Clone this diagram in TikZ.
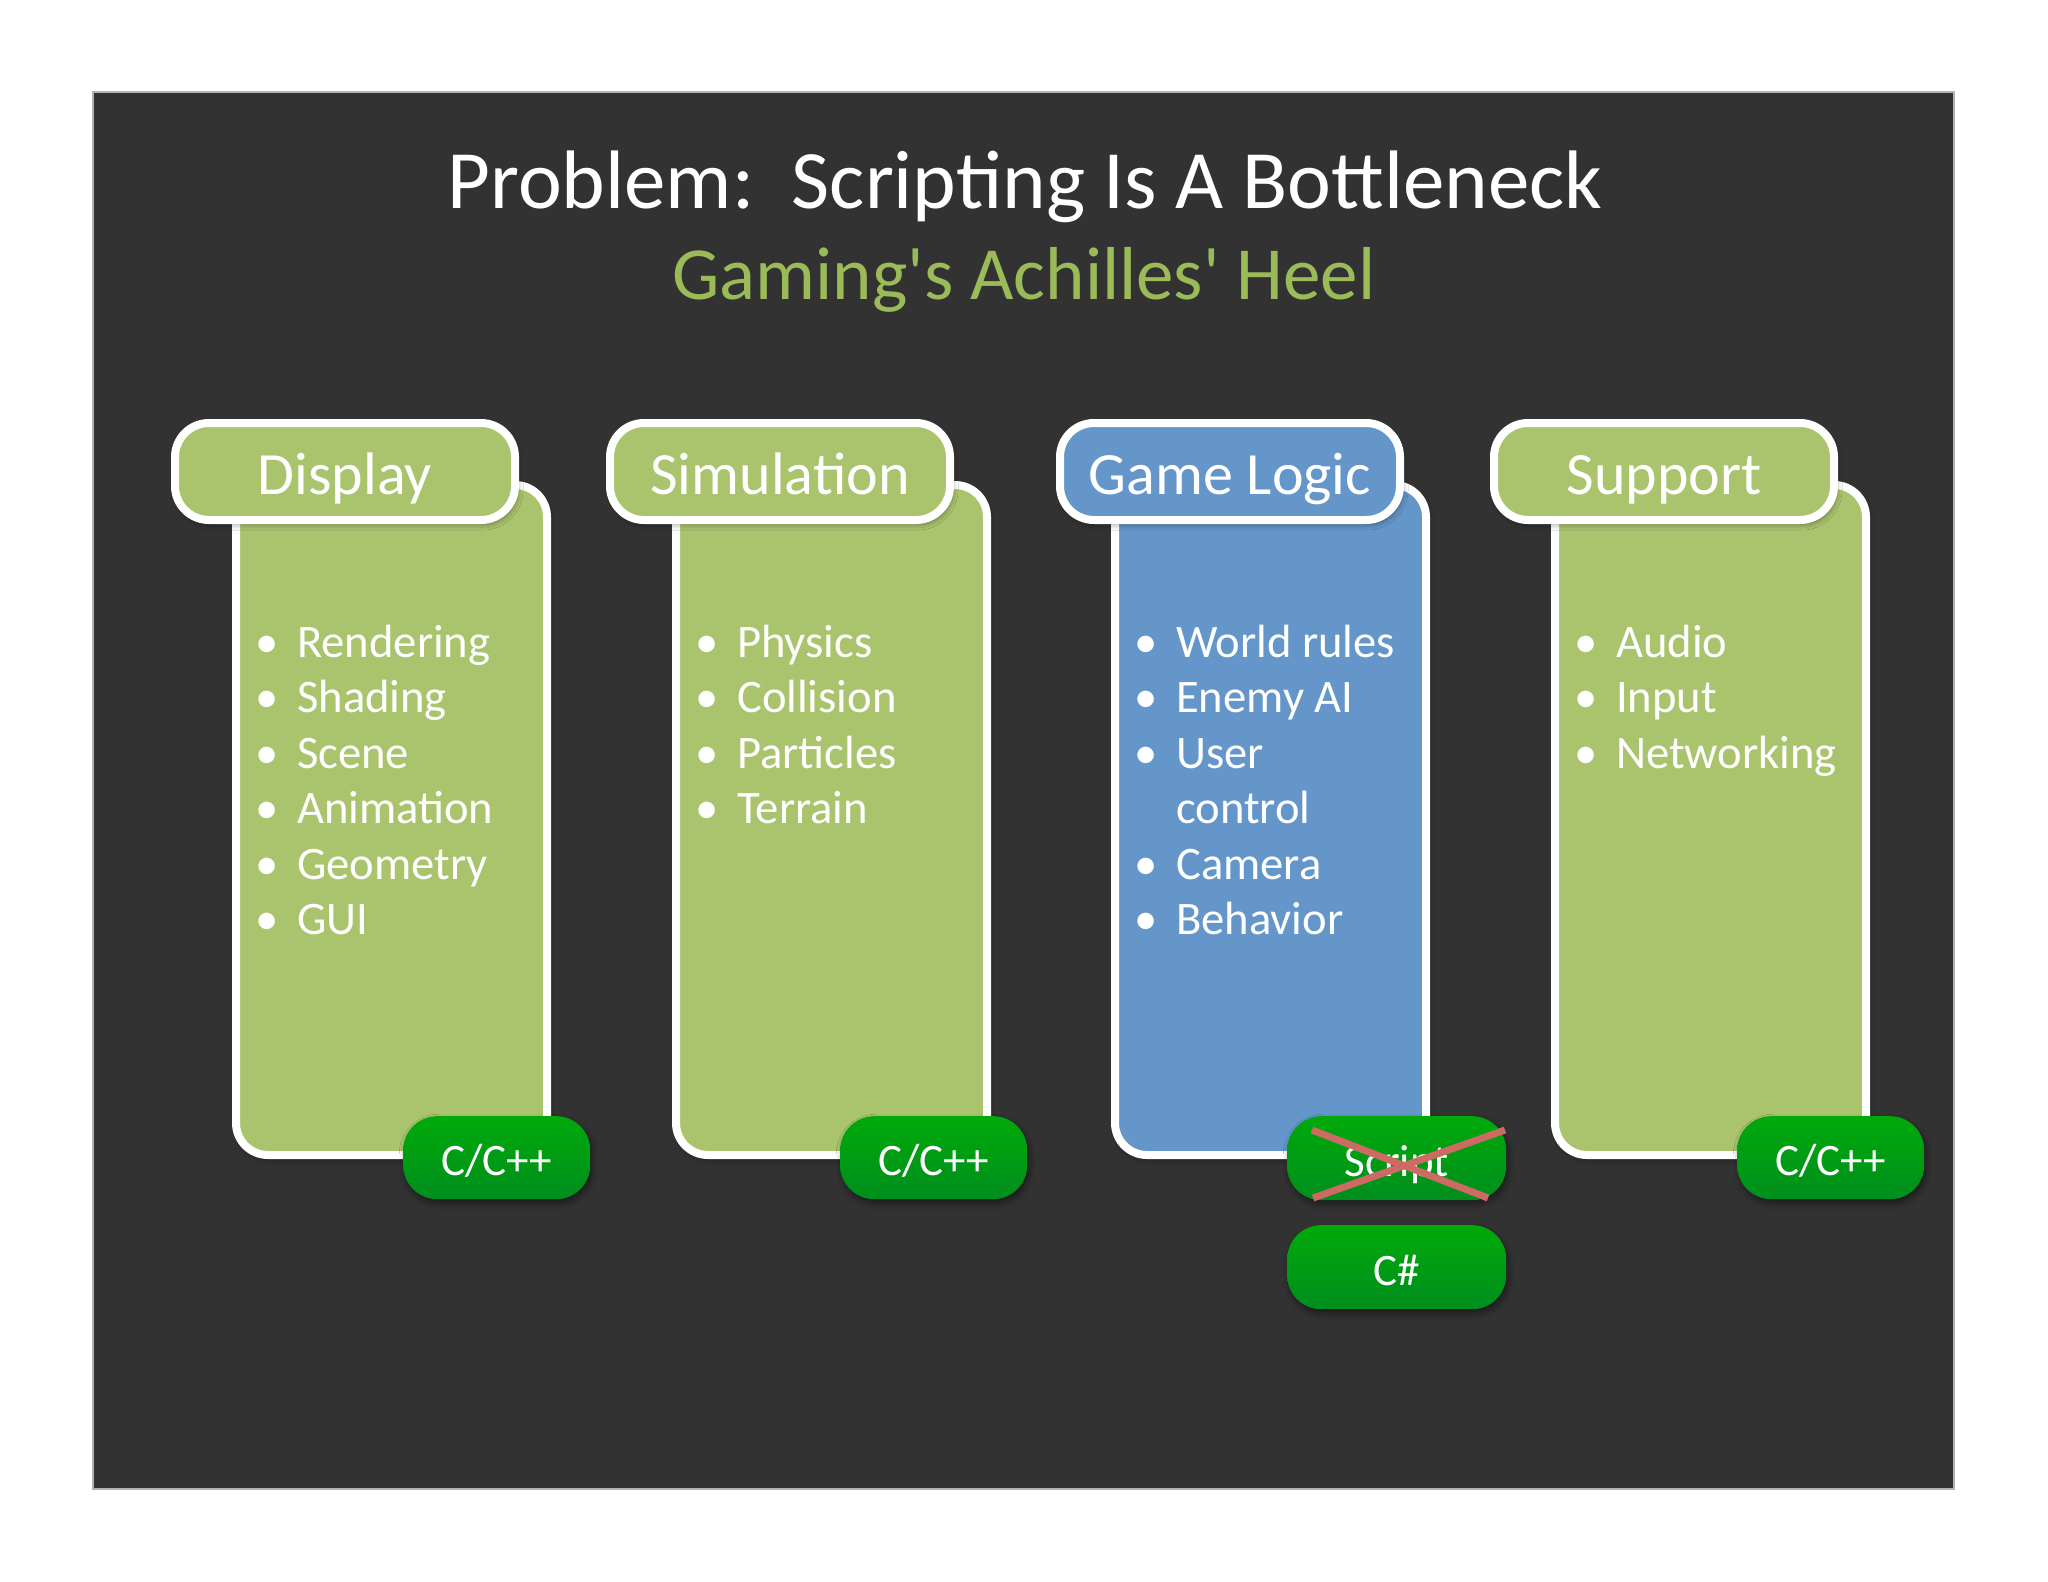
\documentclass[tikz,border=0pt]{standalone}
\usepackage{fontspec}
\setmainfont{Carlito}
\usepackage{array}
\usetikzlibrary{shadows.blur}
\definecolor{bgdark}{HTML}{333233}
\definecolor{tabgreen}{HTML}{AAC46E}
\definecolor{tabblue}{HTML}{6496CA}
\definecolor{subgreen}{HTML}{9BBB59}
\definecolor{btntop}{HTML}{00AA0A}
\definecolor{btnbot}{HTML}{008E1E}
\definecolor{xred}{HTML}{CD6A64}
\begin{document}
\begin{tikzpicture}[x=1pt,y=-1pt,
  softshadow/.style={blur shadow={shadow xshift=2pt, shadow yshift=-4pt, shadow blur radius=6pt, shadow opacity=45}},
  tabbox/.style={draw=white, line width=8pt, rounded corners=34pt, minimum width=340pt, minimum height=97pt,
    inner sep=0pt, text=white, font=\fontsize{60}{62}\selectfont, text height=46pt, text depth=0pt,
    anchor=north west, softshadow},
  bodybox/.style={draw=white, line width=8pt, rounded corners=32pt, minimum width=311pt, minimum height=670pt,
    inner sep=0pt, anchor=north west, softshadow},
  btn/.style={rounded corners=34pt, top color=btntop, bottom color=btnbot, inner sep=0pt, text=white,
    font=\fontsize{45}{47}\selectfont, text height=36pt, text depth=0pt, anchor=north west, softshadow},
  cbtn/.style={btn, minimum width=187pt, minimum height=83pt},
  sbtn/.style={btn, minimum width=219pt, minimum height=84pt},
  listtxt/.style={inner sep=0pt, anchor=base west, text=white, font=\fontsize{46.6}{55.5}\selectfont},
  xline/.style={draw=xred, line width=7pt}
]
\useasboundingbox (0,0) rectangle (2048,1582);
\fill[white] (0,0) rectangle (2048,1582);
\filldraw[fill=bgdark, draw=gray!60, line width=1.5pt] (93,92) rectangle (1954,1489);

% titles
\node[anchor=base, text=white, font=\fontsize{83}{88}\selectfont, inner sep=0pt] (title) at (1025,208)
  {Problem:\ \ Scripting Is A Bottleneck};
\node[anchor=base, text=subgreen, font=\fontsize{75}{80}\selectfont, inner sep=0pt] (subtitle) at (1024,299)
  {Gaming\textquotesingle s Achilles\textquotesingle\ Heel};

% Display
\node[bodybox, fill=tabgreen] (dispbody) at (232,481) {};
\node[tabbox, fill=tabgreen] (disptab) at (171,419) {Display};
\node[listtxt] (displist) at (257,657) {\begin{tabular}[t]{@{}w{c}{20pt}@{\hspace{20pt}}l@{}}
  • & Rendering\\ • & Shading\\ • & Scene\\ • & Animation\\ • & Geometry\\ • & GUI\end{tabular}};
\node[cbtn] (dispbtn) at (403,1116) {C/C++};

% Simulation
\node[bodybox, fill=tabgreen] (simbody) at (672,481) {};
\node[tabbox, fill=tabgreen] (simtab) at (606,419) {Simulation};
\node[listtxt] (simlist) at (697,657) {\begin{tabular}[t]{@{}w{c}{20pt}@{\hspace{20pt}}l@{}}
  • & Physics\\ • & Collision\\ • & Particles\\ • & Terrain\end{tabular}};
\node[cbtn] (simbtn) at (840,1116) {C/C++};

% Game Logic
\node[bodybox, fill=tabblue] (gamebody) at (1111,481) {};
\node[tabbox, fill=tabblue] (gametab) at (1056,419) {Game Logic};
\node[listtxt] (gamelist) at (1136,657) {\begin{tabular}[t]{@{}w{c}{20pt}@{\hspace{20pt}}l@{}}
  • & World rules\\ • & Enemy AI\\ • & User\\ & control\\ • & Camera\\ • & Behavior\end{tabular}};
\node[sbtn] (scriptbtn) at (1287,1116) {Script};
\node[sbtn] (csbtn) at (1287,1225) {C\#};
\coordinate (xa) at (1312,1130);
\coordinate (xb) at (1488,1198);
\coordinate (xc) at (1505,1130);
\coordinate (xd) at (1313,1198);
\draw[xline] (xa) -- (xb);
\draw[xline] (xc) -- (xd);

% Support
\node[bodybox, fill=tabgreen] (supbody) at (1551,481) {};
\node[tabbox, fill=tabgreen] (suptab) at (1490,419) {Support};
\node[listtxt] (suplist) at (1576,657) {\begin{tabular}[t]{@{}w{c}{20pt}@{\hspace{20pt}}l@{}}
  • & Audio\\ • & Input\\ • & Networking\end{tabular}};
\node[cbtn] (supbtn) at (1737,1116) {C/C++};
\end{tikzpicture}
\end{document}
